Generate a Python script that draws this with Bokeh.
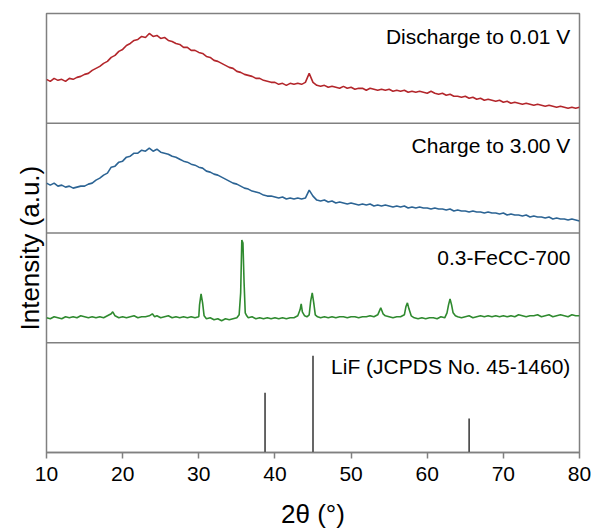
from bokeh.plotting import figure
from bokeh.models import Range1d, Span, Label, FixedTicker, Title
from bokeh.embed import file_html
from bokeh.resources import INLINE

# ---------------- data ----------------
grid_2theta = [round(10 + 0.5 * i, 1) for i in range(141)]  # 10.0 .. 80.0 sampling grid

discharge_int = [
    44, 42, 45, 43, 44, 42, 45, 44, 46, 47,
    49, 50, 53, 55, 57, 60, 62, 66, 68, 72,
    74, 78, 80, 83, 84, 87, 86, 90, 87, 88,
    85, 86, 83, 82, 80, 79, 76, 76, 73, 73,
    71, 70, 67, 66, 63, 62, 60, 58, 56, 55,
    52, 51, 49, 48, 47, 45, 45, 43, 42, 41,
    41, 39, 40, 38, 40, 39, 40, 39, 41, 50,
    41, 38, 37, 38, 36, 37, 36, 35, 37, 35,
    36, 34, 35, 35, 33, 35, 34, 33, 34, 33,
    34, 32, 33, 32, 33, 31, 32, 31, 32, 31,
    30, 32, 30, 29, 30, 28, 29, 27, 27, 26,
    27, 25, 26, 24, 25, 23, 24, 23, 22, 23,
    21, 22, 20, 21, 20, 19, 20, 19, 18, 19,
    18, 17, 18, 17, 16, 17, 16, 15, 16, 15,
    16,
]

charge_int = [
    50, 48, 50, 47, 48, 46, 47, 45, 46, 47,
    47, 49, 50, 53, 55, 58, 60, 66, 67, 71,
    72, 76, 77, 80, 80, 83, 82, 85, 82, 84,
    81, 80, 79, 77, 76, 74, 72, 71, 69, 68,
    66, 65, 62, 61, 59, 58, 56, 54, 52, 50,
    49, 47, 45, 44, 42, 41, 40, 38, 37, 37,
    36, 35, 36, 34, 35, 34, 35, 34, 35, 43,
    37, 33, 32, 33, 31, 32, 30, 31, 30, 29,
    30, 29, 28, 29, 28, 29, 27, 28, 27, 28,
    27, 26, 27, 26, 27, 25, 26, 25, 26, 25,
    25, 24, 25, 24, 24, 23, 24, 22, 23, 22,
    22, 21, 22, 21, 21, 20, 21, 20, 20, 19,
    20, 18, 19, 18, 18, 17, 18, 16, 17, 16,
    16, 15, 16, 14, 15, 14, 14, 13, 14, 13,
    12,
]

fecc_2theta = [
    10.0, 10.5, 11.0, 11.5, 12.0, 12.5, 13.0, 13.5, 14.0, 14.5, 15.0, 15.5, 16.0, 16.5,
    17.0, 17.5, 18.0, 18.5, 18.7, 19.0, 19.5, 20.0, 20.5, 21.0, 21.5, 22.0, 22.5, 23.0,
    23.5, 23.9, 24.2, 24.5, 25.0, 25.5, 26.0, 26.5, 27.0, 27.5, 28.0, 28.5, 29.0, 29.5,
    30.0, 30.1, 30.3, 30.5, 30.7, 31.0, 31.5, 32.0, 32.5, 33.0, 33.5, 34.0, 34.5, 35.0,
    35.3, 35.5, 35.65, 35.8, 35.95, 36.1, 36.3, 36.5, 37.0, 37.5, 38.0, 38.5, 39.0, 39.5,
    40.0, 40.5, 41.0, 41.5, 42.0, 42.5, 43.0, 43.3, 43.45, 43.6, 43.9, 44.2, 44.5, 44.7,
    44.9, 45.1, 45.3, 45.6, 46.0, 46.5, 47.0, 47.5, 48.0, 48.5, 49.0, 49.5, 50.0, 50.5,
    51.0, 51.5, 52.0, 52.5, 53.0, 53.5, 53.9, 54.2, 54.5, 55.0, 55.5, 56.0, 56.5, 57.0,
    57.2, 57.4, 57.6, 57.9, 58.3, 58.8, 59.3, 59.8, 60.3, 60.8, 61.3, 61.8, 62.3, 62.6,
    62.8, 63.0, 63.2, 63.4, 63.7, 64.0, 64.5, 65.0, 65.5, 66.0, 66.5, 67.0, 67.5, 68.0,
    68.5, 69.0, 69.5, 70.0, 70.5, 71.0, 71.5, 72.0, 72.5, 73.0, 73.5, 74.0, 74.5, 75.0,
    75.5, 76.0, 76.5, 77.0, 77.5, 78.0, 78.5, 79.0, 79.5, 80.0,
]
fecc_int = [
    25, 24, 26, 25, 24, 26, 25, 26, 25, 27, 26, 25, 26, 25,
    26, 25, 27, 29, 31, 27, 25, 26, 25, 26, 27, 25, 26, 26,
    27, 29, 26, 27, 25, 26, 27, 25, 26, 25, 26, 25, 26, 25,
    26, 38, 49, 40, 27, 24, 25, 23, 24, 22, 24, 23, 24, 25,
    28, 50, 103, 100, 60, 30, 27, 25, 26, 24, 25, 24, 25, 24,
    25, 24, 25, 24, 25, 25, 27, 33, 39, 31, 27, 26, 28, 42,
    50, 40, 28, 26, 25, 26, 25, 26, 25, 26, 26, 25, 26, 26,
    25, 26, 26, 27, 26, 28, 35, 29, 27, 26, 25, 26, 26, 28,
    36, 40, 34, 27, 25, 24, 25, 24, 25, 25, 24, 26, 25, 30,
    38, 44, 38, 30, 27, 26, 25, 26, 27, 25, 26, 27, 26, 27,
    26, 27, 26, 27, 26, 27, 26, 28, 27, 26, 27, 27, 28, 26,
    27, 28, 26, 27, 28, 27, 26, 28, 27, 27,
]

lif_2theta = [38.7, 45.0, 65.5]
lif_int = [60, 97, 34]

panel_labels = ["Discharge to 0.01 V", "Charge to 3.00 V", "0.3-FeCC-700", "LiF (JCPDS No. 45-1460)"]
x_ticks = [10, 20, 30, 40, 50, 60, 70, 80]

# ---------------- figure ----------------
FONT = "Liberation Sans"
GREY = "#808080"

p = figure(width=593, height=532, x_range=Range1d(10, 80), y_range=Range1d(0, 440),
           output_backend="svg", toolbar_location=None,
           min_border_left=46, min_border_right=14, min_border_top=13, min_border_bottom=80)
p.background_fill_color = "white"
p.border_fill_color = "white"
p.outline_line_color = GREY
p.outline_line_width = 1.5
p.xgrid.visible = False
p.ygrid.visible = False

# one range per stacked panel (panel values 0..110)
p.extra_y_ranges = {
    "dis": Range1d(-330, 110),
    "chg": Range1d(-220, 220),
    "fecc": Range1d(-110, 330),
    "lif": Range1d(0, 440),
}

for loc in (110, 220, 330):
    p.add_layout(Span(location=loc, dimension="width", line_color=GREY, line_width=1.5))

LW = 1.6
p.line(grid_2theta, discharge_int, y_range_name="dis", line_color="#B3262B", line_width=LW)
p.line(grid_2theta, charge_int, y_range_name="chg", line_color="#2C6494", line_width=LW)
p.line(fecc_2theta, fecc_int, y_range_name="fecc", line_color="#2F8A2F", line_width=LW)
p.segment(x0=lif_2theta, y0=[0] * len(lif_2theta), x1=lif_2theta, y1=lif_int,
          y_range_name="lif", line_color="black", line_width=1.2)

label_ranges = ["dis", "chg", "fecc", "lif"]
label_y = [87, 88, 85, 86]
for txt, rn, ly in zip(panel_labels, label_ranges, label_y):
    p.add_layout(Label(x=78.8, y=ly, y_range_name=rn, text=txt, text_align="right",
                       text_baseline="middle", text_font=FONT, text_font_size="21px",
                       text_color="black"))

# x axis
xa = p.xaxis[0]
xa.ticker = FixedTicker(ticks=x_ticks)
xa.axis_line_color = GREY
xa.axis_line_width = 1.5
xa.major_tick_line_color = GREY
xa.major_tick_line_width = 1.5
xa.major_tick_in = 0
xa.major_tick_out = 6
xa.minor_tick_line_color = None
xa.major_label_text_font = FONT
xa.major_label_text_font_size = "21px"
xa.major_label_text_color = "black"
xa.major_label_standoff = 8
xa.axis_label = "2θ (°)"
xa.axis_label_text_font = FONT
xa.axis_label_text_font_size = "26px"
xa.axis_label_text_font_style = "normal"
xa.axis_label_text_color = "black"
xa.axis_label_standoff = 15

# y axis: hidden; the title is a side title left of the frame
p.yaxis[0].visible = False
ytitle = Title(text="Intensity (a.u.)", align="left", offset=122, standoff=4,
               text_font=FONT, text_font_size="26px", text_font_style="normal",
               text_color="black")
p.add_layout(ytitle, "left")

open("out.html", "w").write(file_html(p, INLINE))
